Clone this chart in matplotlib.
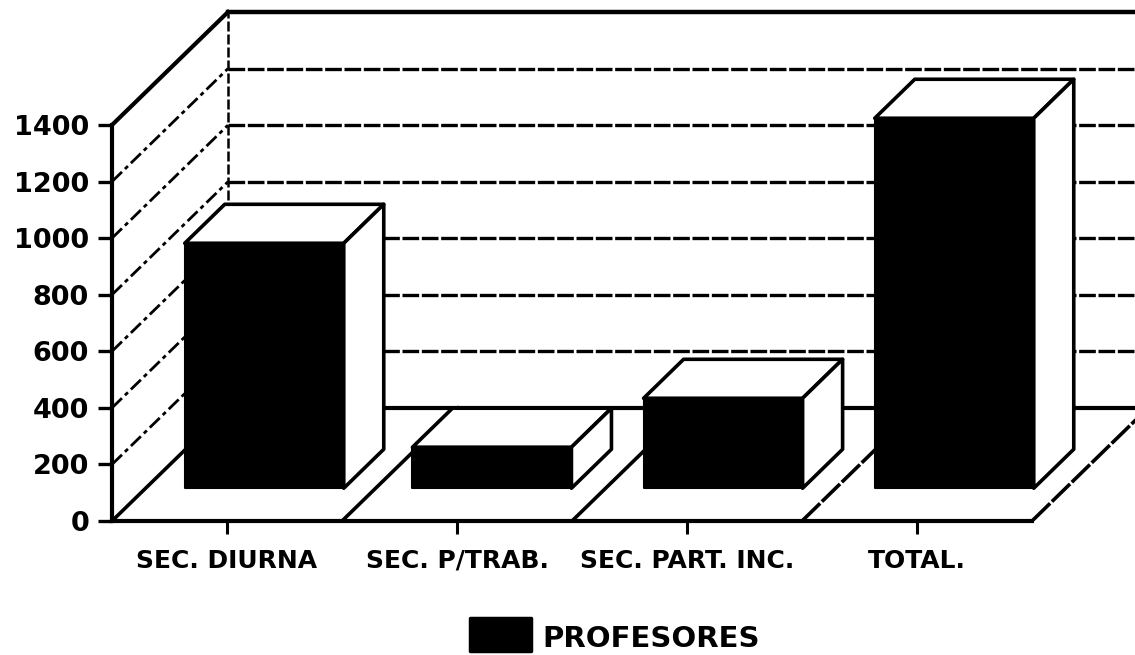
import matplotlib
matplotlib.use('Agg')
import matplotlib.pyplot as plt
from matplotlib.patches import Polygon, Rectangle

plt.rcParams['font.family'] = ['DejaVu Sans']

categories = ['SEC. DIURNA', 'SEC. P/TRAB.', 'SEC. PART. INC.', 'TOTAL.']
profesores = [866, 145, 318, 1308]
y_ticks = [0, 200, 400, 600, 800, 1000, 1200, 1400]
series_name = 'PROFESORES'

W, H = 1135, 655
PX_X = 230.0       # pixels per category
PX_Y = 396 / 1400  # pixels per value unit

fig = plt.figure(figsize=(W / 100, H / 100), dpi=100, facecolor='white')
ax = fig.add_axes([112 / W, (H - 521) / H, 1 - 112 / W, 521 / H])
ax.set_xlim(0, (W - 112) / PX_X)
ax.set_ylim(0, 521 / PX_Y)
ax.patch.set_alpha(0)

# depth of the box, in data units
DX = 116 / PX_X
DY = 113 / PX_Y


def pr(x, y, d=0.0):
    return (x + d * DX, y + d * DY)


# back wall and its grid
right = ax.get_xlim()[1]
ax.plot([pr(0, 1400, 1)[0], right], [pr(0, 1400, 1)[1]] * 2, color='k', lw=3.2, clip_on=False)
for v in y_ticks[1:-1]:
    ax.plot([pr(0, v, 1)[0], right], [pr(0, v, 1)[1]] * 2, color='k', lw=2.4, ls=(0, (5, 0.8)))
ax.plot([pr(0, 0, 1)[0], right], [pr(0, 0, 1)[1]] * 2, color='k', lw=3.0)
ax.plot([pr(0, 0, 1)[0]] * 2, [pr(0, 0, 1)[1], pr(0, 1400, 1)[1]], color='k', lw=1.8, ls=(0, (4, 1.2)))

# left wall
for v in y_ticks[1:-1]:
    a, b = pr(0, v), pr(0, v, 1)
    ax.plot([a[0], b[0]], [a[1], b[1]], color='k', lw=2.0, ls=(0, (5, 1.5, 1.5, 1.5)))
a, b = pr(0, 1400), pr(0, 1400, 1)
ax.plot([a[0], b[0]], [a[1], b[1]], color='k', lw=3.0, clip_on=False)

# floor dividers, the last two are broken in the scan
for x in [0, 1, 2]:
    a, b = pr(x, 0), pr(x, 0, 1)
    ax.plot([a[0], b[0]], [a[1], b[1]], color='k', lw=2.6)
for x in [3, 4]:
    a, b = pr(x, 0), pr(x, 0, 1)
    ax.plot([a[0], b[0]], [a[1], b[1]], color='k', lw=2.6, ls=(0, (7, 0.7)))

# bars
bar_w = 159 / PX_X
bar_d0 = 0.29
bar_d1 = 0.635
bar_left = [0.17, 1.16, 2.165, 3.17]
for x0, v in zip(bar_left, profesores):
    x1 = x0 + bar_w
    top = Polygon([pr(x0, v, bar_d0), pr(x1, v, bar_d0), pr(x1, v, bar_d1), pr(x0, v, bar_d1)],
                  fc='white', ec='k', lw=2.6, zorder=3, joinstyle='round')
    side = Polygon([pr(x1, 0, bar_d0), pr(x1, v, bar_d0), pr(x1, v, bar_d1), pr(x1, 0, bar_d1)],
                   fc='white', ec='k', lw=2.6, zorder=3, joinstyle='round')
    front = Polygon([pr(x0, 0, bar_d0), pr(x1, 0, bar_d0), pr(x1, v, bar_d0), pr(x0, v, bar_d0)],
                    fc='black', ec='k', lw=1.5, zorder=4, joinstyle='round')
    ax.add_patch(top)
    ax.add_patch(side)
    ax.add_patch(front)

# axes
for s in ['top', 'right']:
    ax.spines[s].set_visible(False)
ax.spines['left'].set_bounds(0, 1400)
ax.spines['bottom'].set_bounds(0, 4)
ax.spines['left'].set_linewidth(3)
ax.spines['bottom'].set_linewidth(3)
ax.spines['left'].set_zorder(5)
ax.spines['bottom'].set_zorder(5)

ax.set_yticks(y_ticks)
ax.set_yticklabels([str(v) for v in y_ticks], fontsize=19.5, fontweight='bold')
ax.tick_params(axis='y', length=10, width=2.4, pad=6.5)
ax.set_xticks([0.5, 1.5, 2.5, 3.5])
ax.set_xticklabels(categories, fontsize=18, fontweight='bold')
ax.tick_params(axis='x', length=9, width=2.2, direction='out', pad=11)

# legend
fig.add_artist(Rectangle((470 / W, (H - 651) / H), 61 / W, 33 / H, transform=fig.transFigure,
                         fc='black', ec='black', lw=2.5, joinstyle='round'))
fig.text(542 / W, (H - 639) / H, series_name, ha='left', va='center', fontsize=21, fontweight='bold')

fig.savefig('out.png', dpi=100, facecolor='white')
